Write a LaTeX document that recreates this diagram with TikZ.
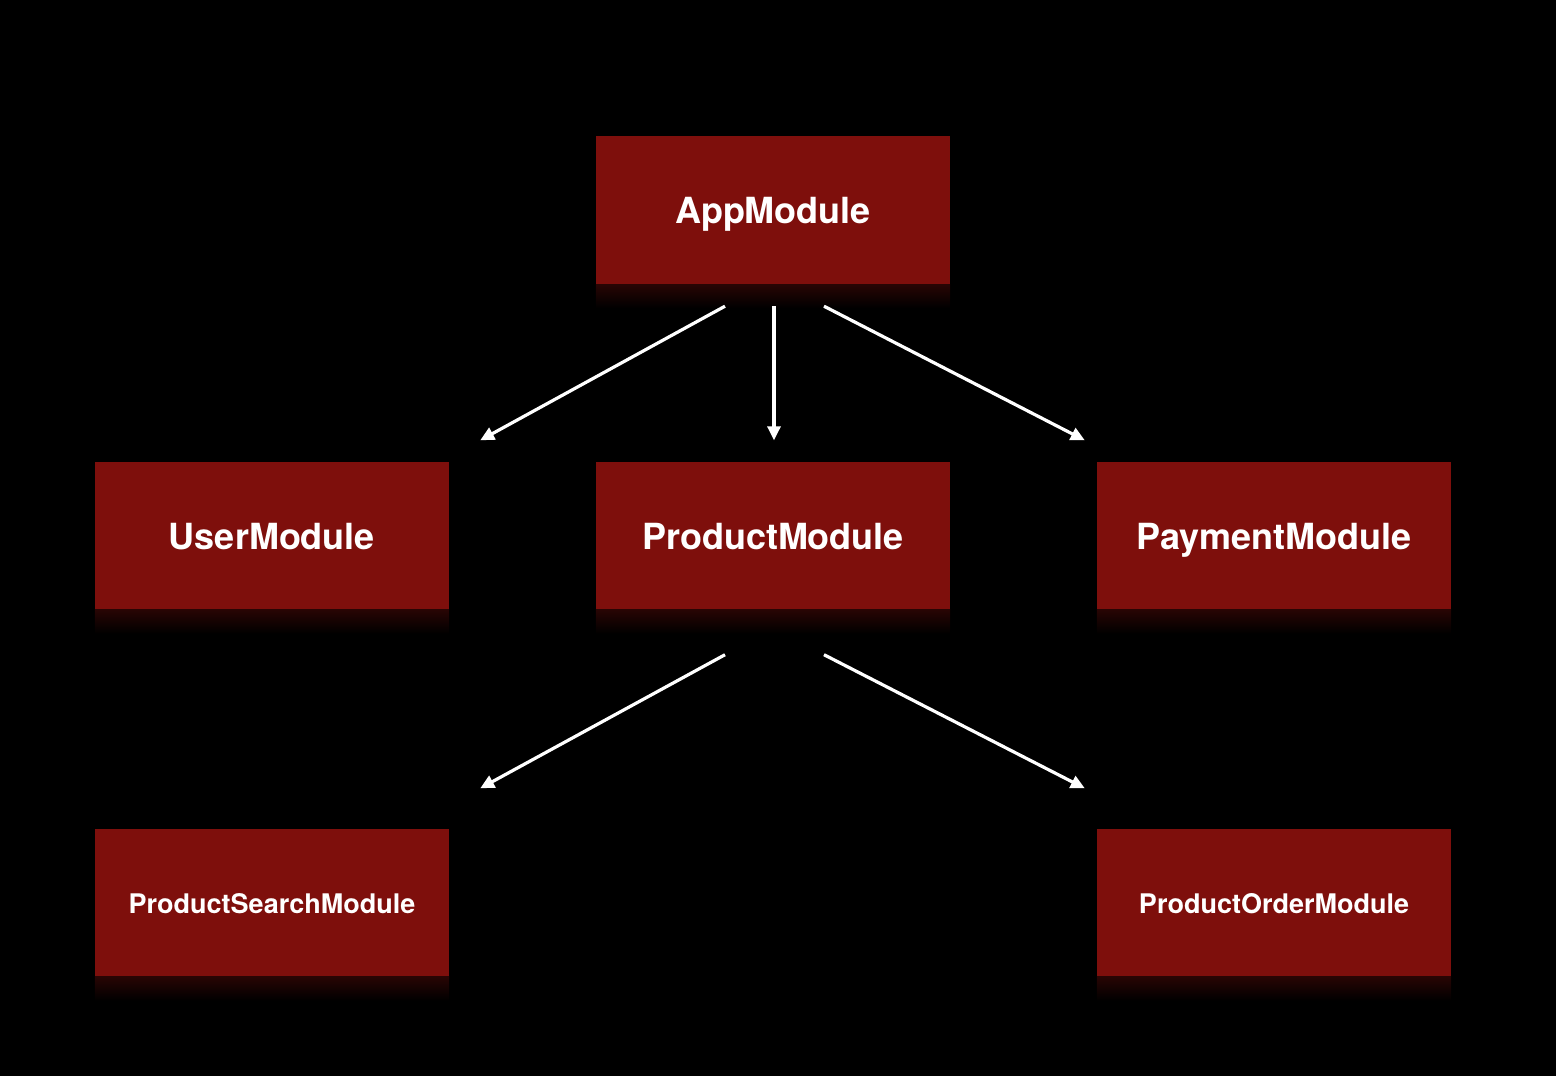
\documentclass[tikz,border=0pt]{standalone}
\usepackage{fontspec}
\setmainfont{TeX Gyre Heros}
\usetikzlibrary{arrows.meta}
\definecolor{boxred}{RGB}{126,15,12}
\definecolor{glowred}{RGB}{40,5,4}
\tikzset{
  modbox/.style={draw=none, fill=boxred, minimum width=354pt, minimum height=148pt,
    inner sep=0pt, text=white, text height=27pt, text depth=0pt,
    font=\bfseries\fontsize{36}{40}\selectfont},
  smalltext/.style={font=\bfseries\fontsize{27}{30}\selectfont, text height=21.5pt},
  arr/.style={draw=white, line width=3.2pt, -{Triangle[length=14pt,width=13pt]}},
}
\newcommand{\glowunder}[1]{%
  \shade[top color=glowred, bottom color=black] (#1.south west) rectangle ([yshift=-24pt]#1.south east);}
\begin{document}
\begin{tikzpicture}[x=1pt,y=-1pt]
\fill[black] (0,0) rectangle (1556,1076);
\useasboundingbox (0,0) rectangle (1556,1076);

\node[modbox] (app) at (773,210) {AppModule};
\node[modbox] (user) at (272,535.5) {UserModule};
\node[modbox] (product) at (773,535.5) {ProductModule};
\node[modbox] (payment) at (1274,535.5) {PaymentModule};
\node[modbox,smalltext] (search) at (272,902.5) {ProductSearchModule};
\node[modbox,smalltext] (order) at (1274,902.5) {ProductOrderModule};

\glowunder{app}
\glowunder{user}
\glowunder{product}
\glowunder{payment}
\glowunder{search}
\glowunder{order}

\draw[arr] ([xshift=-48pt,yshift=-22pt]app.south) -- ([xshift=31pt,yshift=21pt]user.north east);
\draw[arr] ([xshift=1pt,yshift=-22pt]app.south) -- ([xshift=1pt,yshift=21pt]product.north);
\draw[arr] ([xshift=51pt,yshift=-22pt]app.south) -- ([xshift=-12pt,yshift=21pt]payment.north west);

\draw[arr] ([xshift=-48pt,yshift=-45pt]product.south) -- ([xshift=31pt,yshift=40pt]search.north east);
\draw[arr] ([xshift=51pt,yshift=-45pt]product.south) -- ([xshift=-12pt,yshift=40pt]order.north west);
\end{tikzpicture}
\end{document}
